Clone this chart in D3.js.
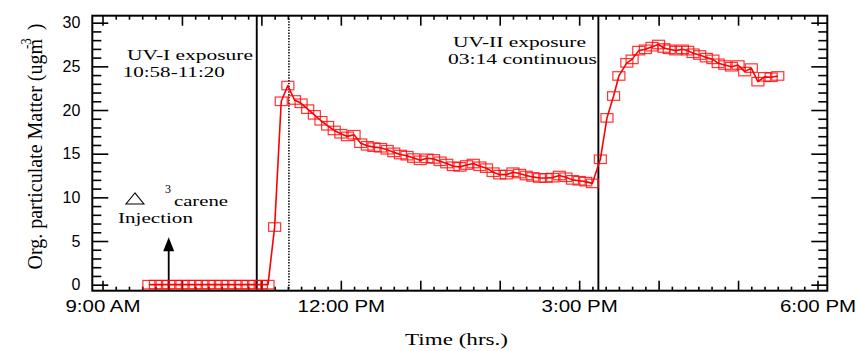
<!DOCTYPE html>
<html>
<head>
<meta charset="utf-8">
<script src="https://cdn.jsdelivr.net/npm/d3@7"></script>
<style>
  body { margin: 0; background: #fff; }
  svg { display: block; }
</style>
</head>
<body>
<div id="chart"></div>
<script>
// sample times (hh:mm) and organic particulate matter (ug m-3)
const sampleTimes = [
  "9:35", "9:40", "9:45", "9:50", "9:55", "10:00", "10:05", "10:10", "10:15", "10:20",
  "10:25", "10:30", "10:35", "10:40", "10:45", "10:50", "10:55", "11:00", "11:05",
  "11:10", "11:15", "11:20",
  "11:25", "11:30", "11:35", "11:40", "11:45", "11:50", "11:55", "12:00", "12:05", "12:10",
  "12:15", "12:20", "12:25", "12:30", "12:35", "12:40", "12:45", "12:50", "12:55", "13:00",
  "13:05", "13:10", "13:15", "13:20", "13:25", "13:30", "13:35", "13:40", "13:45", "13:50",
  "13:55", "14:00", "14:05", "14:10", "14:15", "14:20", "14:25", "14:30", "14:35", "14:40",
  "14:45", "14:50", "14:55", "15:00", "15:05", "15:10",
  "15:16", "15:21", "15:26", "15:30", "15:36", "15:40", "15:45", "15:50", "15:55", "16:00",
  "16:04", "16:08", "16:13", "16:18", "16:22", "16:26", "16:31", "16:36", "16:41", "16:45",
  "16:50", "16:55", "17:00", "17:05", "17:10", "17:15", "17:20", "17:25", "17:30"
];
const orgPM = [
  0, 0, 0, 0, 0, 0, 0, 0, 0, 0,
  0, 0, 0, 0, 0, 0, 0, 0, 0,
  6.6, 21.0, 22.8,
  21.15, 20.77, 20.1, 19.45, 18.77, 18.2, 17.66, 17.28, 16.98, 17.17,
  16.2, 15.9, 15.75, 15.68, 15.45, 15.15, 14.9, 14.77, 14.5, 14.24,
  14.47, 14.4, 14.13, 13.87, 13.56, 13.49, 13.7, 13.87, 13.56, 13.34,
  12.88, 12.6, 12.6, 12.88, 12.72, 12.5, 12.34, 12.22, 12.22, 12.26,
  12.5, 12.3, 12.0, 11.9, 11.8, 11.6,
  14.36, 19.1, 21.6, 23.9, 25.4, 25.8, 26.8, 26.95, 27.25, 27.5,
  27.1, 26.95, 26.8, 26.95, 26.8, 26.5, 26.3, 26.0, 25.8, 25.35,
  25.15, 24.96, 25.15, 24.4, 24.8, 23.25, 23.8, 23.75, 23.9
];

// event markers
const uvLineTimes = ["10:56.5", "15:14.5"];
const darkLineTime = "11:20.8";
const injectionTime = "9:50";
const injectionArrowTop = 5.43;

// axes
const xDomain = ["8:52.3", "18:07.4"];
const yDomain = [-0.69, 30.8];
const majorHours = [9, 10, 11, 12, 13, 14, 15, 16, 17, 18];
const labelHours = [9, 12, 15, 18];
const xTickLabels = ["9:00 AM", "12:00 PM", "3:00 PM", "6:00 PM"];
const yMajorTicks = [0, 5, 10, 15, 20, 25, 30];

const width = 858;
const height = 351;
const frame = { left: 92.3, right: 827.3, top: 15.7, bottom: 290.7 };

function tm(s) {
  const [h, m] = s.split(":").map(Number);
  return new Date(2000, 0, 1, h, 0, Math.round(m * 60));
}

const data = sampleTimes.map((s, i) => ({ time: tm(s), value: orgPM[i] }));

const svg = d3.select("#chart").append("svg")
  .attr("width", width)
  .attr("height", height);

const x = d3.scaleTime()
  .domain(xDomain.map(tm))
  .range([frame.left, frame.right]);

const y = d3.scaleLinear()
  .domain(yDomain)
  .range([frame.bottom, frame.top]);

const majorX = majorHours.map(h => new Date(2000, 0, 1, h));
const minorX = d3.timeMinute.every(10).range(x.domain()[0], x.domain()[1])
  .filter(d => d.getMinutes() !== 0);
const minorY = d3.range(0, 31).filter(v => v % 5 !== 0);

const sans = "'Liberation Sans', Arial, Helvetica, sans-serif";
const serif = "'Liberation Serif', 'Times New Roman', Times, serif";

function styleAxis(g) {
  g.select(".domain").remove();
  g.selectAll("line").attr("stroke", "#000").attr("stroke-width", 1.6);
}

// bottom axis: hourly ticks with labels at 9, 12, 3, 6
svg.append("g")
  .attr("transform", `translate(0,${frame.bottom})`)
  .call(d3.axisBottom(x).tickValues(majorX).tickSize(-10).tickPadding(10)
    .tickFormat(d => {
      const k = labelHours.indexOf(d.getHours());
      return k < 0 ? "" : xTickLabels[k];
    }))
  .call(styleAxis)
  .call(g => g.selectAll("text")
    .attr("font-family", sans)
    .attr("font-size", 16)
    .attr("fill", "#000")
    .attr("transform", "scale(1.28,1)"));

svg.append("g")
  .attr("transform", `translate(0,${frame.bottom})`)
  .call(d3.axisBottom(x).tickValues(minorX).tickSize(-4).tickFormat(""))
  .call(styleAxis);

// top axis mirrors the bottom one
svg.append("g")
  .attr("transform", `translate(0,${frame.top})`)
  .call(d3.axisTop(x).tickValues(majorX).tickSize(-10).tickFormat(""))
  .call(styleAxis);

svg.append("g")
  .attr("transform", `translate(0,${frame.top})`)
  .call(d3.axisTop(x).tickValues(minorX).tickSize(-4).tickFormat(""))
  .call(styleAxis);

// left axis
svg.append("g")
  .attr("transform", `translate(${frame.left},0)`)
  .call(d3.axisLeft(y).tickValues(yMajorTicks).tickSize(-16).tickPadding(12))
  .call(styleAxis)
  .call(g => g.selectAll("text")
    .attr("font-family", sans)
    .attr("font-size", 16)
    .attr("fill", "#000"));

svg.append("g")
  .attr("transform", `translate(${frame.left},0)`)
  .call(d3.axisLeft(y).tickValues(minorY).tickSize(-9).tickFormat(""))
  .call(styleAxis);

// right axis
svg.append("g")
  .attr("transform", `translate(${frame.right},0)`)
  .call(d3.axisRight(y).tickValues(yMajorTicks).tickSize(-16).tickFormat(""))
  .call(styleAxis);

svg.append("g")
  .attr("transform", `translate(${frame.right},0)`)
  .call(d3.axisRight(y).tickValues(minorY).tickSize(-9).tickFormat(""))
  .call(styleAxis);

// frame
svg.append("rect")
  .attr("x", frame.left)
  .attr("y", frame.top)
  .attr("width", frame.right - frame.left)
  .attr("height", frame.bottom - frame.top)
  .attr("fill", "none")
  .attr("stroke", "#000")
  .attr("stroke-width", 2);

// UV exposure lines
svg.append("g")
  .selectAll("line")
  .data(uvLineTimes)
  .join("line")
  .attr("x1", d => x(tm(d)))
  .attr("x2", d => x(tm(d)))
  .attr("y1", frame.top)
  .attr("y2", frame.bottom)
  .attr("stroke", "#000")
  .attr("stroke-width", 1.9);

svg.append("line")
  .attr("x1", x(tm(darkLineTime)))
  .attr("x2", x(tm(darkLineTime)))
  .attr("y1", frame.top)
  .attr("y2", frame.bottom)
  .attr("stroke", "#000")
  .attr("stroke-width", 1.5)
  .attr("stroke-dasharray", "1.4,1.4");

// injection arrow
const ax = x(tm(injectionTime));
svg.append("line")
  .attr("x1", ax).attr("x2", ax)
  .attr("y1", frame.bottom)
  .attr("y2", y(injectionArrowTop) + 12)
  .attr("stroke", "#000")
  .attr("stroke-width", 1.8);
svg.append("path")
  .attr("d", `M${ax},${y(injectionArrowTop)} L${ax - 5.5},${y(injectionArrowTop) + 14} L${ax + 5.5},${y(injectionArrowTop) + 14} Z`)
  .attr("fill", "#000");

// data line and square markers
const line = d3.line()
  .x(d => x(d.time))
  .y(d => y(d.value));

svg.append("path")
  .datum(data)
  .attr("fill", "none")
  .attr("stroke", "#f00")
  .attr("stroke-width", 1.6)
  .attr("stroke-linejoin", "round")
  .attr("d", line);

svg.append("g")
  .attr("fill", "none")
  .attr("stroke", "#f00")
  .attr("stroke-width", 1.2)
  .attr("stroke-opacity", 0.8)
  .selectAll("rect")
  .data(data)
  .join("rect")
  .attr("x", d => x(d.time) - 6)
  .attr("y", d => y(d.value) - 4.25)
  .attr("width", 12)
  .attr("height", 8.5);

// annotations
function note(text, time, value, size, len) {
  return svg.append("text")
    .attr("x", x(tm(time)))
    .attr("y", y(value))
    .attr("font-family", serif)
    .attr("font-size", size)
    .attr("textLength", len)
    .attr("lengthAdjust", "spacingAndGlyphs")
    .attr("fill", "#000")
    .text(text);
}

note("UV-I exposure", "9:18.5", 25.73, 15, 126);
note("10:58-11:20", "9:15.3", 23.75, 15, 102);
note("UV-II exposure", "13:24.7", 27.25, 15, 133);
note("03:14 continuous", "13:20.9", 25.27, 15, 149);
note("3", "9:47.2", 10.5, 11.5, 6);
note("carene", "9:54", 9.0, 15, 54);
note("Injection", "9:11.7", 7.03, 15, 75);

// open triangle symbol before "carene"
const tx = x(tm("9:24.5"));
const tyBase = y(9.24);
svg.append("path")
  .attr("d", `M${tx},${tyBase - 11} L${tx - 9},${tyBase} L${tx + 9},${tyBase} Z`)
  .attr("fill", "none")
  .attr("stroke", "#000")
  .attr("stroke-width", 1.1);

// axis titles
svg.append("text")
  .attr("x", 456.5)
  .attr("y", 345)
  .attr("text-anchor", "middle")
  .attr("font-family", serif)
  .attr("font-size", 17.5)
  .attr("textLength", 103)
  .attr("lengthAdjust", "spacingAndGlyphs")
  .attr("fill", "#000")
  .text("Time (hrs.)");

// rotated title, glyphs widened across the page like the rest of the figure
const yTitle = svg.append("text")
  .attr("transform", "translate(42,146.5) rotate(-90) scale(1,1.1)")
  .attr("text-anchor", "middle")
  .attr("font-family", serif)
  .attr("font-size", 20)
  .attr("fill", "#000");
yTitle.append("tspan").text("Org. particulate Matter (ugm");
yTitle.append("tspan")
  .attr("dx", -10)
  .attr("dy", -10)
  .attr("font-size", 13)
  .text("-3");
yTitle.append("tspan")
  .attr("dx", 3)
  .attr("dy", 10)
  .text(" )");
</script>
</body>
</html>
